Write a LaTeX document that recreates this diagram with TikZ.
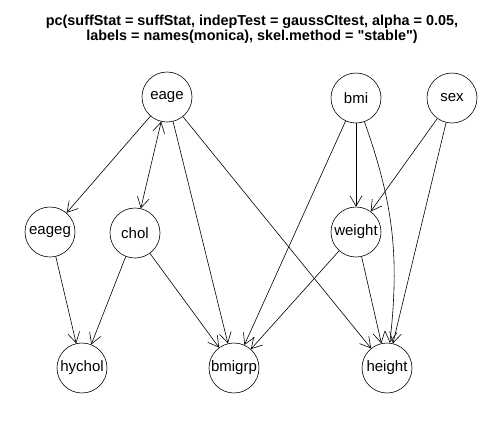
\documentclass[tikz,border=0pt]{standalone}
\usepackage{fontspec}
\setmainfont{Liberation Sans}[Ligatures=TeXOff]
\usepackage{tikz}
\usetikzlibrary{positioning,shapes,arrows.meta}

\begin{document}
\begin{tikzpicture}
            [x=1pt,y=-1pt,>={Straight Barb[angle=60:12pt]},line width=0.6pt,
             every node/.style={draw, circle, inner sep = 0pt, minimum width = 50pt, font=\fontsize{15}{17}\selectfont}]
          \useasboundingbox (0,0) rectangle (504,432);
          \node[draw=none, align=center, font=\bfseries\fontsize{14.4}{15}\selectfont] (title) at (252,29)
            {pc(suffStat = suffStat, indepTest = gaussCItest, alpha = 0.05,\\
             labels = names(monica), skel.method = "stable")};

          \node (eage) at (167,97) {eage};
          \node (bmi) at (356,98) {bmi};
          \node (sex) at (452,98) {sex};
          \node (eageg) at (50,232) {eageg};
          \node (chol) at (135,233) {chol};
          \node (weight) at (356,232) {weight};
          \node (hychol) at (82,368) {hychol};
          \node (bmigrp) at (234,368) {bmigrp};
          \node (height) at (387,368) {height};

          \foreach \from/\to in {eage/eageg, eage/bmigrp, eage/height, bmi/bmigrp, bmi/weight,
                                 sex/weight, sex/height, eageg/hychol, chol/hychol, chol/bmigrp,
                                 weight/bmigrp, weight/height}
            \draw (\from) edge[->] (\to);
          \draw (eage) edge[<->] (chol);
          \draw (bmi) edge[->, bend left=13] (height);
        \end{tikzpicture}
\end{document}
